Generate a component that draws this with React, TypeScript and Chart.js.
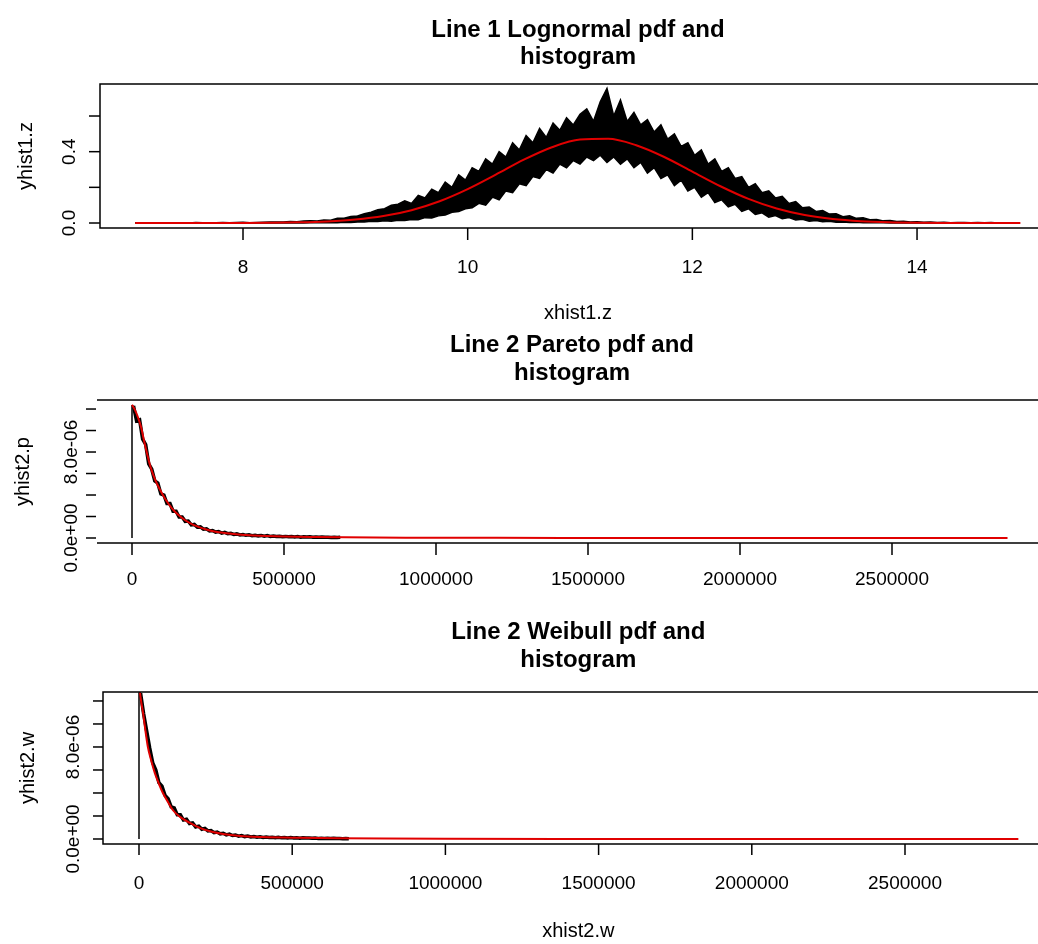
import React, { useEffect, useRef } from "react";
import { Chart, registerables } from "chart.js";

Chart.register(...registerables);

const FONT = '"Liberation Sans", Arial, sans-serif';

// ---------- Panel 1: lognormal (log scale) histogram band + pdf ----------
const LOG_BIN_START = 7.04;
const LOG_BIN_WIDTH = 0.06;
const HIST1_HI = [
  0.002, 0, 0, 0, 0, 0, 0, 0, 0, 0.003,
  0.001, 0, 0.002, 0.003, 0.002, 0.003, 0.004, 0.002, 0.003, 0.004,
  0.005, 0.006, 0.005, 0.009, 0.007, 0.011, 0.012, 0.011, 0.017, 0.016,
  0.026, 0.027, 0.036, 0.04, 0.052, 0.06, 0.075, 0.08, 0.1, 0.105,
  0.125, 0.11, 0.155, 0.14, 0.19, 0.17, 0.23, 0.2, 0.27, 0.24,
  0.31, 0.29, 0.36, 0.33, 0.4, 0.37, 0.45, 0.41, 0.49, 0.45,
  0.53, 0.48, 0.56, 0.52, 0.59, 0.55, 0.61, 0.64, 0.57, 0.68,
  0.755, 0.6, 0.69, 0.57, 0.62, 0.55, 0.58, 0.51, 0.55, 0.47,
  0.5, 0.43, 0.45, 0.38, 0.41, 0.33, 0.36, 0.29, 0.31, 0.25,
  0.26, 0.2, 0.22, 0.17, 0.18, 0.14, 0.15, 0.11, 0.12, 0.085,
  0.09, 0.065, 0.07, 0.05, 0.052, 0.035, 0.04, 0.026, 0.03, 0.018,
  0.02, 0.012, 0.014, 0.008, 0.01, 0.006, 0.007, 0.004, 0.005, 0.003,
  0.004, 0.002, 0.003, 0.003, 0.001, 0.003, 0.002, 0.003, 0, 0.002, 0, 0,
];
const HIST1_LO = [
  0, 0, 0, 0, 0, 0, 0, 0, 0, 0,
  0, 0, 0, 0, 0, 0, 0, 0, 0, 0,
  0, 0, 0, 0, 0, 0, 0.001, 0.001, 0.002, 0.001,
  0.002, 0.004, 0.003, 0.006, 0.005, 0.01, 0.008, 0.012, 0.01, 0.016,
  0.014, 0.02, 0.018, 0.03, 0.028, 0.04, 0.045, 0.06, 0.065, 0.08,
  0.085, 0.11, 0.1, 0.145, 0.13, 0.18, 0.17, 0.22, 0.21, 0.26,
  0.25, 0.3, 0.28, 0.33, 0.31, 0.35, 0.33, 0.37, 0.35, 0.38,
  0.34, 0.37, 0.33, 0.36, 0.31, 0.34, 0.28, 0.31, 0.25, 0.27,
  0.21, 0.24, 0.18, 0.2, 0.145, 0.17, 0.115, 0.13, 0.09, 0.105,
  0.065, 0.08, 0.048, 0.057, 0.033, 0.042, 0.024, 0.031, 0.017, 0.021,
  0.01, 0.014, 0.007, 0.01, 0.004, 0.006, 0.003, 0.004, 0.001, 0.002,
  0.001, 0.001, 0, 0, 0, 0, 0, 0, 0, 0,
  0, 0, 0, 0, 0, 0, 0, 0, 0, 0, 0, 0,
];
const PDF1_X = [
  7.04, 7.25, 7.5, 7.75, 8.0, 8.25, 8.5, 8.75, 9.0, 9.25, 9.5, 9.75, 10.0,
  10.25, 10.5, 10.75, 11.0, 11.25, 11.5, 11.75, 12.0, 12.25, 12.5, 12.75,
  13.0, 13.25, 13.5, 13.75, 14.0, 14.25, 14.5, 14.75, 14.92,
];
const PDF1_Y = [
  0, 0, 0.0001, 0.0002, 0.0005, 0.0014, 0.0037, 0.0089, 0.0193, 0.039, 0.072,
  0.122, 0.19, 0.271, 0.355, 0.425, 0.468, 0.472, 0.436, 0.37, 0.288, 0.206,
  0.135, 0.081, 0.0445, 0.0225, 0.0104, 0.0044, 0.0017, 0.0006, 0.0002, 0.0001, 0,
];
const P1_X_TICKS = [8, 10, 12, 14];
const P1_X_LABELS = ["8", "10", "12", "14"];
const P1_Y_TICKS = [0, 0.2, 0.4, 0.6];
const P1_Y_LABELS = ["0.0", "", "0.4", ""];

// ---------- Panels 2 & 3: heavy-tailed histograms (values in 1e-6) ----------
const TAIL_BIN_START = 5000;
const TAIL_BIN_WIDTH = 10000;
const HIST2_Y = [
  12.3, 10.9, 11.0, 9.2, 8.7, 6.9, 6.4, 5.3, 5.1, 4.1, 4.0, 3.2, 3.2, 2.5,
  2.5, 1.95, 1.95, 1.55, 1.58, 1.22, 1.26, 1.0, 1.03, 0.82, 0.85, 0.65, 0.7,
  0.55, 0.6, 0.45, 0.52, 0.4, 0.44, 0.33, 0.38, 0.29, 0.33, 0.25, 0.29, 0.22,
  0.26, 0.2, 0.24, 0.17, 0.22, 0.15, 0.19, 0.14, 0.17, 0.12, 0.15, 0.11, 0.13,
  0.1, 0.14, 0.08, 0.12, 0.09, 0.11, 0.07, 0.1, 0.06, 0.09, 0.07, 0.08, 0.05,
  0.08, 0.04, 0.06,
];
const PDF2_X = [
  0, 10000, 20000, 30000, 40000, 50000, 60000, 75000, 90000, 110000, 130000,
  150000, 175000, 200000, 250000, 300000, 350000, 400000, 500000, 600000,
  700000, 900000, 1200000, 1600000, 2000000, 2500000, 2880000,
];
const PDF2_Y = [
  12.4, 11.9, 11.2, 10.3, 9.0, 7.8, 6.7, 5.5, 4.6, 3.6, 2.8, 2.2, 1.65, 1.25,
  0.75, 0.48, 0.33, 0.24, 0.14, 0.09, 0.06, 0.03, 0.015, 0.007, 0.004, 0.002, 0.001,
];
const HIST3_Y = [
  12.7, 10.9, 9.4, 7.9, 6.6, 6.0, 4.9, 4.6, 3.8, 3.5, 2.8, 2.7, 2.1, 2.1,
  1.65, 1.72, 1.35, 1.4, 1.05, 1.12, 0.85, 0.92, 0.7, 0.74, 0.55, 0.6, 0.45,
  0.5, 0.36, 0.42, 0.3, 0.35, 0.25, 0.3, 0.21, 0.26, 0.18, 0.22, 0.16, 0.2,
  0.14, 0.18, 0.13, 0.16, 0.11, 0.15, 0.1, 0.13, 0.09, 0.12, 0.08, 0.11, 0.07,
  0.1, 0.08, 0.09, 0.06, 0.08, 0.05, 0.07, 0.05, 0.07, 0.04, 0.06, 0.04, 0.05,
  0.03, 0.05, 0.03,
];
const PDF3_X = [
  0, 3000, 8000, 13000, 20000, 29000, 40000, 52000, 65000, 78000, 95000,
  111000, 135000, 166000, 200000, 241000, 280000, 330000, 400000, 525000,
  650000, 800000, 1000000, 1400000, 1800000, 2300000, 2870000,
];
const PDF3_Y = [
  14.0, 12.8, 11.8, 11.0, 9.6, 8.0, 6.8, 5.7, 4.8, 4.0, 3.2, 2.5, 1.9, 1.4,
  0.95, 0.6, 0.42, 0.26, 0.17, 0.1, 0.06, 0.035, 0.02, 0.008, 0.004, 0.002, 0.001,
];
const TAIL_X_TICKS = [0, 500000, 1000000, 1500000, 2000000, 2500000];
const TAIL_X_LABELS = ["0", "500000", "1000000", "1500000", "2000000", "2500000"];
const TAIL_Y_TICKS = [0, 2, 4, 6, 8, 10, 12];
const TAIL_Y_LABELS = ["0.0e+00", "", "", "", "8.0e-06", "", ""];

const CANVAS_W = 1070;

type Spec = {
  top: number;
  height: number;
  area: { left: number; top: number; right: number; bottom: number };
  xMin: number;
  xMax: number;
  yMin: number;
  yMax: number;
  xTicks: number[];
  xLabels: string[];
  yTicks: number[];
  yLabels: string[];
  titles: string[];
  titleY: number[];
  xTitle: string;
  xTitleY: number;
  yTitle: string;
  yTitleX: number;
  xTickY0: number;
  xTickY1: number;
  xLabelY: number;
  yTickX0: number;
  yTickX1: number;
  yLabelX: number;
  leftBorder: boolean;
  datasets: any[];
};

const pairs = (xs: number[], ys: number[]) => xs.map((x, i) => ({ x, y: ys[i] }));

const tailDatasets = (hist: number[], px: number[], py: number[]) => {
  const pts = hist.map((v, i) => ({ x: TAIL_BIN_START + i * TAIL_BIN_WIDTH, y: v }));
  return [
    {
      // vertical rise of the histogram line at the origin
      data: [
        { x: 0, y: 0 },
        { x: 0, y: hist[0] },
        { x: pts[0].x, y: hist[0] },
      ],
      borderColor: "#000",
      borderWidth: 1.5,
      fill: false,
      tension: 0,
      order: 2,
    },
    {
      data: pts,
      borderColor: "#000",
      borderWidth: 3.5,
      fill: false,
      tension: 0,
      order: 1,
    },
    {
      data: pairs(px, py),
      borderColor: "#e00000",
      borderWidth: 2,
      fill: false,
      cubicInterpolationMode: "monotone",
      order: 0,
    },
  ];
};

const SPECS: Spec[] = [
  {
    top: 0,
    height: 330,
    area: { left: 100, top: 84, right: 1056, bottom: 228 },
    xMin: 6.727,
    xMax: 15.237,
    yMin: -0.028,
    yMax: 0.7795,
    xTicks: P1_X_TICKS,
    xLabels: P1_X_LABELS,
    yTicks: P1_Y_TICKS,
    yLabels: P1_Y_LABELS,
    titles: ["Line 1 Lognormal pdf and", "histogram"],
    titleY: [30, 57],
    xTitle: "xhist1.z",
    xTitleY: 313,
    yTitle: "yhist1.z",
    yTitleX: 26,
    xTickY0: 228,
    xTickY1: 240,
    xLabelY: 268,
    yTickX0: 89,
    yTickX1: 100,
    yLabelX: 70,
    leftBorder: true,
    datasets: [
      {
        data: HIST1_HI.map((v, i) => ({ x: LOG_BIN_START + i * LOG_BIN_WIDTH, y: v })),
        borderColor: "#000",
        backgroundColor: "#000",
        borderWidth: 1.5,
        fill: "+1",
        tension: 0,
        order: 1,
      },
      {
        data: HIST1_LO.map((v, i) => ({ x: LOG_BIN_START + i * LOG_BIN_WIDTH, y: v })),
        borderColor: "#000",
        borderWidth: 1.5,
        fill: false,
        tension: 0,
        order: 1,
      },
      {
        data: pairs(PDF1_X, PDF1_Y),
        borderColor: "#e00000",
        borderWidth: 2,
        fill: false,
        cubicInterpolationMode: "monotone",
        order: 0,
      },
    ],
  },
  {
    top: 330,
    height: 270,
    area: { left: 97, top: 70, right: 1047, bottom: 213 },
    xMin: -115132,
    xMax: 3009868,
    yMin: -0.465,
    yMax: 12.84,
    xTicks: TAIL_X_TICKS,
    xLabels: TAIL_X_LABELS,
    yTicks: TAIL_Y_TICKS,
    yLabels: TAIL_Y_LABELS,
    titles: ["Line 2 Pareto pdf and", "histogram"],
    titleY: [15, 43],
    xTitle: "",
    xTitleY: 0,
    yTitle: "yhist2.p",
    yTitleX: 23,
    xTickY0: 213,
    xTickY1: 225,
    xLabelY: 250,
    yTickX0: 86,
    yTickX1: 96,
    yLabelX: 72,
    leftBorder: false,
    datasets: tailDatasets(HIST2_Y, PDF2_X, PDF2_Y),
  },
  {
    top: 600,
    height: 344,
    area: { left: 103, top: 92, right: 1053.6, bottom: 244 },
    xMin: -117493,
    xMax: 2984987,
    yMin: -0.435,
    yMax: 12.78,
    xTicks: TAIL_X_TICKS,
    xLabels: TAIL_X_LABELS,
    yTicks: TAIL_Y_TICKS,
    yLabels: TAIL_Y_LABELS,
    titles: ["Line 2 Weibull pdf and", "histogram"],
    titleY: [32, 60],
    xTitle: "xhist2.w",
    xTitleY: 331,
    yTitle: "yhist2.w",
    yTitleX: 28,
    xTickY0: 244,
    xTickY1: 255,
    xLabelY: 284,
    yTickX0: 93,
    yTickX1: 103,
    yLabelX: 74,
    leftBorder: true,
    datasets: tailDatasets(HIST3_Y, PDF3_X, PDF3_Y),
  },
];

function makeAxesPlugin(spec: Spec) {
  return {
    id: "rAxes",
    afterDraw(chart: any) {
      const ctx = chart.ctx as CanvasRenderingContext2D;
      const xs = chart.scales.x;
      const ys = chart.scales.y;
      const a = chart.chartArea;
      ctx.save();
      ctx.strokeStyle = "#000";
      ctx.fillStyle = "#000";
      ctx.lineWidth = 1.5;
      ctx.beginPath();
      if (spec.leftBorder) {
        ctx.rect(a.left, a.top, a.right - a.left, a.bottom - a.top);
      } else {
        ctx.moveTo(a.left, a.top);
        ctx.lineTo(a.right, a.top);
        ctx.lineTo(a.right, a.bottom);
        ctx.lineTo(a.left, a.bottom);
      }
      ctx.stroke();

      ctx.font = `19px ${FONT}`;
      ctx.textAlign = "center";
      ctx.textBaseline = "middle";
      spec.xTicks.forEach((v, i) => {
        const px = xs.getPixelForValue(v);
        ctx.beginPath();
        ctx.moveTo(px, spec.xTickY0);
        ctx.lineTo(px, spec.xTickY1);
        ctx.stroke();
        if (spec.xLabels[i]) ctx.fillText(spec.xLabels[i], px, spec.xLabelY);
      });
      spec.yTicks.forEach((v, i) => {
        const py = ys.getPixelForValue(v);
        ctx.beginPath();
        ctx.moveTo(spec.yTickX0, py);
        ctx.lineTo(spec.yTickX1, py);
        ctx.stroke();
        if (spec.yLabels[i]) {
          ctx.save();
          ctx.translate(spec.yLabelX, py);
          ctx.rotate(-Math.PI / 2);
          ctx.fillText(spec.yLabels[i], 0, 0);
          ctx.restore();
        }
      });

      const cx = (a.left + a.right) / 2;
      ctx.font = `20px ${FONT}`;
      if (spec.xTitle) ctx.fillText(spec.xTitle, cx, spec.xTitleY);
      ctx.save();
      ctx.translate(spec.yTitleX, (a.top + a.bottom) / 2);
      ctx.rotate(-Math.PI / 2);
      ctx.fillText(spec.yTitle, 0, 0);
      ctx.restore();

      ctx.font = `bold 24px ${FONT}`;
      spec.titles.forEach((t, i) => ctx.fillText(t, cx, spec.titleY[i]));
      ctx.restore();
    },
  };
}

function Panel({ spec }: { spec: Spec }) {
  const ref = useRef<HTMLCanvasElement | null>(null);
  useEffect(() => {
    if (!ref.current) return;
    const chart = new Chart(ref.current, {
      type: "line",
      data: { datasets: spec.datasets },
      options: {
        responsive: false,
        animation: false,
        devicePixelRatio: 1,
        layout: {
          padding: {
            left: spec.area.left,
            top: spec.area.top,
            right: CANVAS_W - spec.area.right,
            bottom: spec.height - spec.area.bottom,
          },
        },
        elements: { point: { radius: 0 } },
        scales: {
          x: { type: "linear", min: spec.xMin, max: spec.xMax, display: false },
          y: { type: "linear", min: spec.yMin, max: spec.yMax, display: false },
        },
        plugins: {
          legend: { display: false },
          tooltip: { enabled: false },
          title: { display: false },
        },
      } as any,
      plugins: [makeAxesPlugin(spec)],
    });
    return () => chart.destroy();
  }, [spec]);
  return (
    <canvas
      ref={ref}
      width={CANVAS_W}
      height={spec.height}
      style={{
        position: "absolute",
        left: 0,
        top: spec.top,
        width: CANVAS_W,
        height: spec.height,
      }}
    />
  );
}

export default function App() {
  return (
    <div
      style={{
        position: "fixed",
        left: 0,
        top: 0,
        width: 1038,
        height: 944,
        overflow: "hidden",
        background: "#fff",
      }}
    >
      {SPECS.map((s, i) => (
        <Panel key={i} spec={s} />
      ))}
    </div>
  );
}
